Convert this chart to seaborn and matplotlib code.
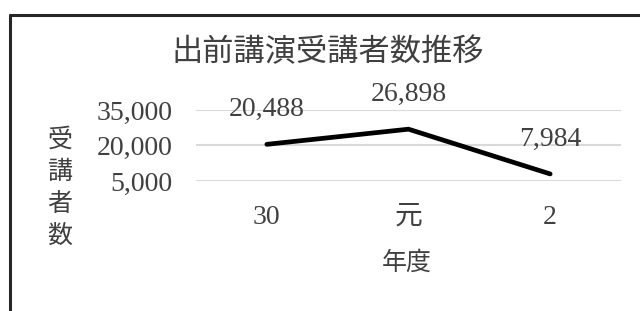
import numpy as np
import pandas as pd
import matplotlib.pyplot as plt
from matplotlib.lines import Line2D
import seaborn as sns

sns.set_style('white')
plt.rcParams['font.family'] = ['Liberation Serif', 'Noto Sans CJK JP']

# data
years = ['30', '元', '2']
counts = [20488, 26898, 7984]
y_ticks = [5000, 20000, 35000]

df = pd.DataFrame({'年度': years, '受講者数': counts})

fig = plt.figure(figsize=(6.4, 3.11), dpi=100)
ax = fig.add_axes([196/640, 130/311, 425/640, 71/311])

sns.lineplot(data=df, x='年度', y='受講者数', ax=ax, color='black',
             linewidth=3.4, sort=False)
ax.lines[0].set_solid_capstyle('round')
ax.lines[0].set_solid_joinstyle('miter')

ax.set_xlim(-0.5, 2.5)
ax.set_ylim(5000, 35000)
ax.set_yticks(y_ticks)
ax.set_yticklabels([f'{v:,}' for v in y_ticks])
ax.yaxis.grid(True, color='#d9d9d9', linewidth=1.5)
ax.set_axisbelow(True)
for s in ax.spines.values():
    s.set_visible(False)
ax.tick_params(axis='y', length=0, pad=17, labelsize=20, labelcolor='#404040')
ax.tick_params(axis='x', length=0, pad=17, labelsize=20, labelcolor='#404040')

# data labels
for i, v in enumerate(counts):
    ax.annotate(f'{v:,}', (i, v), xytext=(0, 25), textcoords='offset points',
                ha='center', va='center', fontsize=20, color='#404040')

ax.set_xlabel('年度', fontsize=18, color='#404040')
ax.xaxis.set_label_coords(0.496, -1.155)
ax.xaxis.label.set_va('center')
ax.set_ylabel('受\n講\n者\n数', fontsize=18, color='#404040', rotation=0,
              linespacing=1.5)
ax.yaxis.set_label_coords(-0.32, -0.099)
ax.yaxis.label.set_va('center')
ax.yaxis.label.set_ha('center')

fig.text(328/640, (311-53)/311, '出前講演受講者数推移', ha='center', va='center',
         fontsize=22.5, color='#404040')

# chart frame (cropped at right and bottom)
fx = 10/640
fy = (311-15)/311
fig.add_artist(Line2D([fx, fx], [0, fy], color='#262626', linewidth=2.2))
fig.add_artist(Line2D([fx, 1.0], [fy, fy], color='#262626', linewidth=2.2))

fig.savefig('out.png', dpi=100)
